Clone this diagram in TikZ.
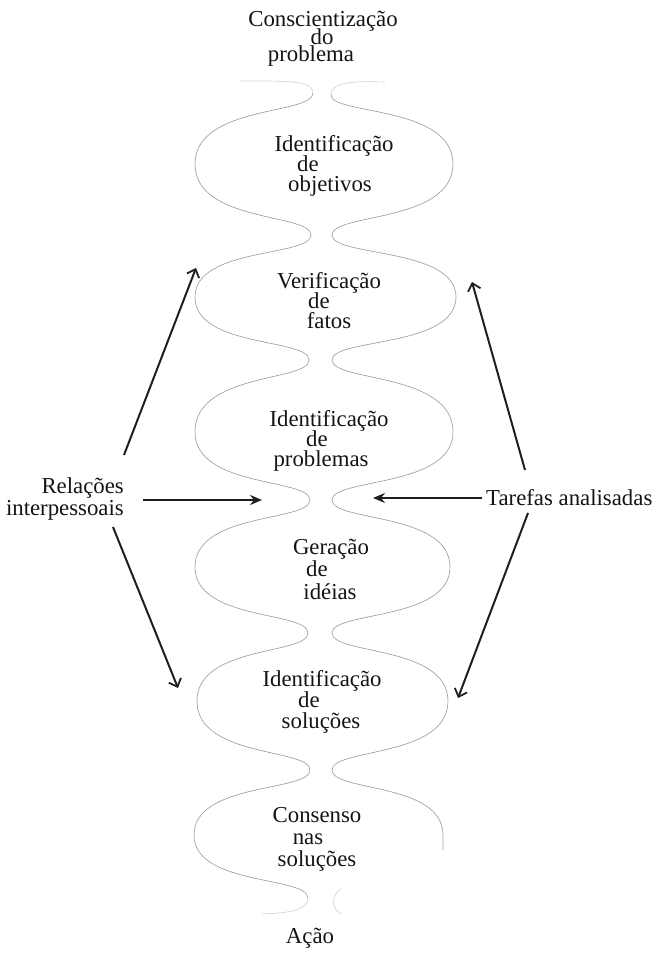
\documentclass[tikz,border=0pt]{standalone}
\usepackage{fontspec}
\setmainfont{Liberation Serif}
\usetikzlibrary{arrows.meta}
\newcommand{\shiftline}[2]{\hspace*{#1}\hspace*{#1}#2}
\newcommand{\tightls}{\lineskiplimit=-50pt\relax\lineskip=0pt\relax}
\begin{document}
\begin{tikzpicture}[x=1pt,y=-1pt,
  lbl/.style={align=center, inner sep=0pt, text=black!92},
  fs/.style={font={\fontsize{22.8}{#1}\selectfont\tightls}},
  wave/.style={draw=black!38, line width=0.65pt},
  faint/.style={draw=black!18, line width=0.65pt},
  arr/.style={line width=2pt, draw=black!88, -{Straight Barb[length=7pt,width=13pt,line width=1.8pt]}},
  harr/.style={line width=2pt, draw=black!88, -{Stealth[length=12pt,width=10pt,inset=4pt]}}]
\useasboundingbox (0,0) rectangle (658,953);

% ---- left wavy line
\draw[wave] (313,93)
 .. controls (313,115) and (195,105) .. (195,164)
 .. controls (195,223) and (311,213) .. (311,235)
 .. controls (311,257) and (195,247) .. (195,297)
 .. controls (195,348) and (309,338) .. (309,360)
 .. controls (309,382) and (195,372) .. (195,432)
 .. controls (195,488) and (310,478) .. (310,500)
 .. controls (310,522) and (195,512) .. (195,567)
 .. controls (195,621) and (308,611) .. (308,633)
 .. controls (308,655) and (197,645) .. (197,701)
 .. controls (197,758) and (310,748) .. (310,770)
 .. controls (310,792) and (194,782) .. (194,835)
 .. controls (194,886) and (308,876) .. (308,898);

% ---- right wavy line
\draw[wave] (331,95)
 .. controls (331,115) and (453,105) .. (453,164)
 .. controls (453,223) and (332,213) .. (332,235)
 .. controls (332,257) and (456,247) .. (456,297)
 .. controls (456,348) and (332,338) .. (332,360)
 .. controls (332,382) and (453,372) .. (453,432)
 .. controls (453,488) and (332,478) .. (332,500)
 .. controls (332,522) and (450,512) .. (450,567)
 .. controls (450,621) and (332,611) .. (332,633)
 .. controls (332,655) and (448,645) .. (448,701)
 .. controls (448,758) and (332,748) .. (332,770)
 .. controls (332,792) and (443,782) .. (443,835) -- (443,850);

% ---- faint ends
\draw[faint] (313,93) .. controls (313,80) and (285,81) .. (240,81);
\draw[faint] (331,95) .. controls (331,82) and (352,81) .. (385,82);
\draw[faint] (308,898) .. controls (308,910) and (290,913) .. (262,914);
\draw[faint] (341,889) .. controls (331,895) and (331,908) .. (341,914);

% ---- stage labels
\node[lbl, fs=17.5] (s1) at (323,39) {Conscientização\\\shiftline{-1pt}{do}\\\shiftline{-12pt}{problema}};
\node[lbl, fs=20] (s2) at (334,166) {Identificação\\\shiftline{-26pt}{de}\\\shiftline{-4pt}{objetivos}};
\node[lbl, fs=20] (s3) at (329,301) {Verificação\\\shiftline{-10pt}{de}\\fatos};
\node[lbl, fs=20] (s4) at (329,441) {Identificação\\\shiftline{-12pt}{de}\\\shiftline{-8pt}{problemas}};
\node[lbl, fs=22.5] (s5) at (331,569) {Geração\\\shiftline{-14pt}{de}\\\shiftline{-1pt}{idéias}};
\node[lbl, fs=21] (s6) at (322,702) {Identificação\\\shiftline{-13pt}{de}\\\shiftline{-1pt}{soluções}};
\node[lbl, fs=22] (s7) at (317,839) {Consenso\\\shiftline{-9pt}{nas}\\soluções};
\node[lbl, fs=22] (s8) at (310,938) {Ação};

% ---- side labels
\node[lbl, fs=21.5, align=right, anchor=east] (rel) at (124,499) {Relações\\interpessoais};
\node[lbl, fs=22, anchor=west] (tar) at (486,497.5) {Tarefas analisadas};

% ---- arrows
\coordinate (ulS) at (124,455); \coordinate (ulE) at (196,268);
\coordinate (llS) at (113,527); \coordinate (llE) at (178,688);
\coordinate (urS) at (525,470); \coordinate (urE) at (472,282);
\coordinate (lrS) at (528,513); \coordinate (lrE) at (458,698);
\coordinate (hlS) at (143,500); \coordinate (hlE) at (262,500);
\coordinate (hrS) at (482,498); \coordinate (hrE) at (373,498);
\draw[arr] (ulS) -- (ulE);
\draw[arr] (llS) -- (llE);
\draw[arr] (urS) -- (urE);
\draw[arr] (lrS) -- (lrE);
\draw[harr] (hlS) -- (hlE);
\draw[harr] (hrS) -- (hrE);
\end{tikzpicture}
\end{document}
